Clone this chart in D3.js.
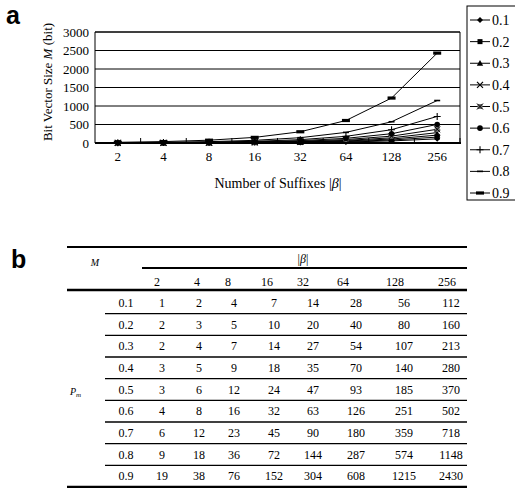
<!DOCTYPE html>
<html>
<head>
<meta charset="utf-8">
<script src="https://cdn.jsdelivr.net/npm/d3@7"></script>
<style>
  body { margin: 0; background: #fff; }
  svg { display: block; }
  text { font-family: "Liberation Serif", "DejaVu Serif", "Times New Roman", serif; fill: #000; }
  text.panel { font-family: "Liberation Sans", Arial, sans-serif; font-weight: bold; font-size: 25px; }
</style>
</head>
<body>
<svg id="fig" width="515" height="488"></svg>
<script>
// data: bit vector size M per suffix count |β|, one list per Pm
const suffixes = ["2", "4", "8", "16", "32", "64", "128", "256"];
const pmLabels = ["0.1", "0.2", "0.3", "0.4", "0.5", "0.6", "0.7", "0.8", "0.9"];
const m01 = [1, 2, 4, 7, 14, 28, 56, 112];
const m02 = [2, 3, 5, 10, 20, 40, 80, 160];
const m03 = [2, 4, 7, 14, 27, 54, 107, 213];
const m04 = [3, 5, 9, 18, 35, 70, 140, 280];
const m05 = [3, 6, 12, 24, 47, 93, 185, 370];
const m06 = [4, 8, 16, 32, 63, 126, 251, 502];
const m07 = [6, 12, 23, 45, 90, 180, 359, 718];
const m08 = [9, 18, 36, 72, 144, 287, 574, 1148];
const m09 = [19, 38, 76, 152, 304, 608, 1215, 2430];
const yTicks = [0, 500, 1000, 1500, 2000, 2500, 3000];

const series = pmLabels.map((p, i) => ({
  name: p,
  values: [m01, m02, m03, m04, m05, m06, m07, m08, m09][i],
}));

// marker style per series (same order as pmLabels)
const markerTypes = ["diamond", "square", "triangle", "x", "xsquare", "circle", "plus", "dash", "bar"];

const svg = d3.select("#fig");

function drawMarker(sel, type) {
  if (type === "diamond") sel.append("path").attr("d", "M0,-3L3,0L0,3L-3,0Z").attr("fill", "#000");
  else if (type === "square") sel.append("rect").attr("x", -2.5).attr("y", -2.5).attr("width", 5).attr("height", 5).attr("fill", "#000");
  else if (type === "triangle") sel.append("path").attr("d", "M0,-3.2L3.2,2.4L-3.2,2.4Z").attr("fill", "#000");
  else if (type === "x") sel.append("path").attr("d", "M-3,-3L3,3M-3,3L3,-3").attr("stroke", "#000").attr("stroke-width", 1.2);
  else if (type === "xsquare") {
    sel.append("rect").attr("x", -2.5).attr("y", -2.5).attr("width", 5).attr("height", 5).attr("fill", "#777");
    sel.append("path").attr("d", "M-3,-3L3,3M-3,3L3,-3").attr("stroke", "#000").attr("stroke-width", 1);
  } else if (type === "circle") sel.append("circle").attr("r", 2.8).attr("fill", "#000");
  else if (type === "plus") sel.append("path").attr("d", "M-3.5,0H3.5M0,-3.5V3.5").attr("stroke", "#000").attr("stroke-width", 1.1);
  else if (type === "dash") sel.append("path").attr("d", "M-3,0H3").attr("stroke", "#000").attr("stroke-width", 1.6);
  else if (type === "bar") sel.append("rect").attr("x", -4).attr("y", -1.6).attr("width", 8).attr("height", 3.2).attr("fill", "#000");
}

// ---------- panel a ----------
svg.append("text").attr("class", "panel").attr("x", 6).attr("y", 24).text("a");

const plot = { left: 95, right: 460, top: 32, bottom: 143 };
const x = d3.scaleBand().domain(suffixes).range([plot.left, plot.right]);
const y = d3.scaleLinear().domain([0, 3000]).range([plot.bottom, plot.top]);
const cx = (d) => x(d) + x.bandwidth() / 2;

const g = svg.append("g");

// gridlines
g.selectAll(".grid")
  .data(yTicks.filter((d) => d > 0))
  .enter()
  .append("line")
  .attr("x1", plot.left).attr("x2", plot.right)
  .attr("y1", (d) => y(d)).attr("y2", (d) => y(d))
  .attr("stroke", "#000").attr("stroke-width", 1);

// frame
g.append("path")
  .attr("d", `M${plot.left},${plot.bottom}V${plot.top}H${plot.right}V${plot.bottom}`)
  .attr("fill", "none").attr("stroke", "#000").attr("stroke-width", 1);

// y axis labels
g.append("g")
  .attr("transform", `translate(${plot.left},0)`)
  .call(d3.axisLeft(y).tickValues(yTicks).tickFormat(d3.format("d")).tickSize(0).tickPadding(6))
  .call((a) => a.select(".domain").remove())
  .call((a) => a.selectAll("text").style("font-size", "13px"));

// x axis labels
g.append("g")
  .attr("transform", `translate(0,${plot.bottom})`)
  .call(d3.axisBottom(x).tickSize(0).tickPadding(9))
  .call((a) => a.select(".domain").remove())
  .call((a) => a.selectAll("text").style("font-size", "13px"));

// inner ticks at category boundaries
g.selectAll(".btick")
  .data(suffixes.slice(1).concat(["end"]))
  .enter()
  .append("line")
  .attr("x1", (d) => (d === "end" ? plot.right : x(d)))
  .attr("x2", (d) => (d === "end" ? plot.right : x(d)))
  .attr("y1", plot.bottom).attr("y2", plot.bottom - 5)
  .attr("stroke", "#000").attr("stroke-width", 1);

// series lines
const line = d3.line().x((d, i) => cx(suffixes[i])).y((d) => y(d));
g.selectAll(".series")
  .data(series)
  .enter()
  .append("path")
  .attr("d", (d) => line(d.values))
  .attr("fill", "none").attr("stroke", "#000").attr("stroke-width", 1);

series.forEach((s, si) => {
  s.values.forEach((v, i) => {
    const m = g.append("g").attr("transform", `translate(${cx(suffixes[i])},${y(v)})`);
    drawMarker(m, markerTypes[si]);
  });
});

// thick bottom axis
g.append("line")
  .attr("x1", plot.left).attr("x2", plot.right + 1)
  .attr("y1", plot.bottom).attr("y2", plot.bottom)
  .attr("stroke", "#000").attr("stroke-width", 2.2);

// axis titles
const yt = svg.append("text")
  .attr("transform", "translate(52,82) rotate(-90)")
  .attr("text-anchor", "middle").style("font-size", "13px");
yt.append("tspan").text("Bit Vector Size ");
yt.append("tspan").style("font-style", "italic").text("M");
yt.append("tspan").text(" (bit)");

const xt = svg.append("text")
  .attr("x", 278).attr("y", 188)
  .attr("text-anchor", "middle").style("font-size", "14px");
xt.append("tspan").text("Number of Suffixes |");
xt.append("tspan").style("font-style", "italic").text("β");
xt.append("tspan").text("|");

// legend
const leg = svg.append("g");
leg.append("rect")
  .attr("x", 467).attr("y", 6).attr("width", 60).attr("height", 194)
  .attr("fill", "#fff").attr("stroke", "#000").attr("stroke-width", 1);
const ly = d3.scalePoint().domain(pmLabels).range([20, 193]);
pmLabels.forEach((p, i) => {
  const it = leg.append("g").attr("transform", `translate(0,${ly(p)})`);
  it.append("line").attr("x1", 470).attr("x2", 490).attr("stroke", "#000").attr("stroke-width", 1);
  drawMarker(it.append("g").attr("transform", "translate(480,0)"), markerTypes[i]);
  it.append("text").attr("x", 492).attr("y", 5).style("font-size", "14px").text(p);
});

// ---------- panel b (table) ----------
svg.append("text").attr("class", "panel").attr("x", 11).attr("y", 268).text("b");

const colHead = d3.scaleOrdinal().domain(suffixes).range([157, 197, 228, 267, 303, 343, 395, 447]);
const colVal = d3.scaleOrdinal().domain(suffixes).range([162, 199, 234, 274, 313, 356, 404, 451]);
const rowY = d3.scaleBand().domain(pmLabels).range([292, 487]);

const t = svg.append("g").style("font-size", "12px");

const hline = (x1, x2, yy, w) =>
  t.append("line").attr("x1", x1).attr("x2", x2).attr("y1", yy).attr("y2", yy)
    .attr("stroke", "#000").attr("stroke-width", w);

hline(67, 467, 247, 2.2);
hline(142, 467, 268, 2.2);
hline(67, 467, 290, 2.6);
pmLabels.slice(1).forEach((p) => hline(105, 467, rowY(p), 1.3));
hline(67, 467, 487, 2.6);

const bt = t.append("text").attr("x", 303).attr("y", 263).attr("text-anchor", "middle");
bt.append("tspan").text("|");
bt.append("tspan").style("font-style", "italic").text("β");
bt.append("tspan").text("|");

t.append("text").attr("x", 95).attr("y", 266).attr("text-anchor", "middle")
  .style("font-style", "italic").style("font-size", "10px").text("M");

const pt = t.append("text").attr("x", 70).attr("y", 395).style("font-style", "italic").style("font-size", "10px");
pt.append("tspan").text("P");
pt.append("tspan").attr("dy", 2).style("font-size", "7px").text("m");

t.selectAll(".hd")
  .data(suffixes)
  .enter()
  .append("text")
  .attr("x", (d) => colHead(d)).attr("y", 286)
  .attr("text-anchor", "middle").text((d) => d);

series.forEach((s) => {
  const yy = rowY(s.name) + rowY.bandwidth() / 2 + 4;
  t.append("text").attr("x", 126).attr("y", yy).attr("text-anchor", "middle").text(s.name);
  s.values.forEach((v, i) => {
    t.append("text").attr("x", colVal(suffixes[i])).attr("y", yy)
      .attr("text-anchor", "middle").text(v);
  });
});
</script>
</body>
</html>
